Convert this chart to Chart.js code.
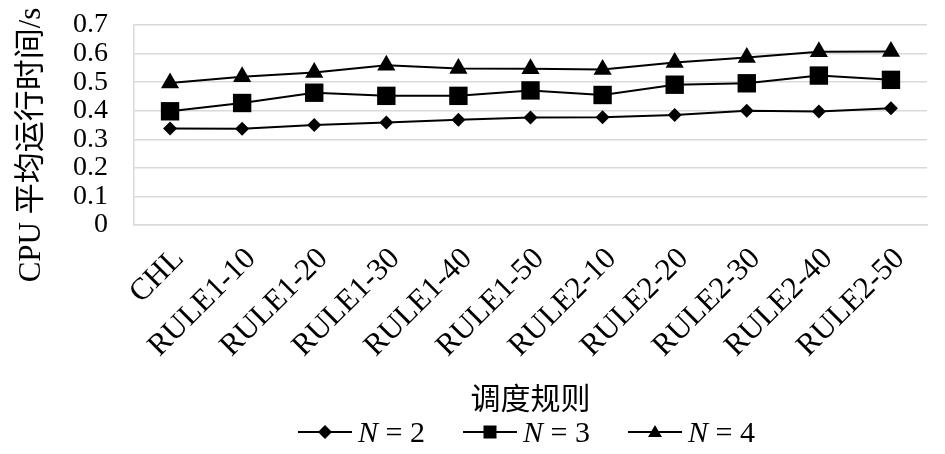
<!DOCTYPE html>
<html>
<head>
<meta charset="utf-8">
<title>CPU 平均运行时间</title>
<script src="https://cdn.jsdelivr.net/npm/chart.js"></script>
<style>
  body { margin: 0; background: #fff; }
  #wrap { position: relative; width: 945px; height: 454px; }
  #chart { position: absolute; left: 0; top: 0; }
  #legend {
    position: absolute; left: 108px; top: 414px; width: 837px; height: 36px;
    display: flex; justify-content: center; align-items: center; gap: 38px;
    font-family: "Liberation Serif", "Noto Sans CJK SC", serif; font-size: 30px; color: #000;
  }
  #legend .item { display: flex; align-items: center; gap: 6px; white-space: pre; }
</style>
</head>
<body>
<div id="wrap">
  <canvas id="chart" width="945" height="454"></canvas>
  <div id="legend"></div>
</div>
<script>
const categories = ['CHL', 'RULE1-10', 'RULE1-20', 'RULE1-30', 'RULE1-40', 'RULE1-50',
                    'RULE2-10', 'RULE2-20', 'RULE2-30', 'RULE2-40', 'RULE2-50'];
const n2 = [0.338, 0.337, 0.350, 0.359, 0.368, 0.376, 0.377, 0.385, 0.400, 0.397, 0.409];
const n3 = [0.398, 0.427, 0.463, 0.452, 0.452, 0.471, 0.455, 0.491, 0.496, 0.523, 0.508];
const n4 = [0.497, 0.519, 0.534, 0.559, 0.548, 0.547, 0.544, 0.569, 0.586, 0.606, 0.607];
const yTickLabels = ['0', '0.1', '0.2', '0.3', '0.4', '0.5', '0.6', '0.7'];
const seriesNames = ['2', '3', '4'];
const yTitle = 'CPU 平均运行时间/s';
const xTitle = '调度规则';

const fontFamily = '"Liberation Serif", "Noto Sans CJK SC", serif';
const gridColor = '#d9d9d9';

// y axis title, centred on the whole chart height like the original
const yTitlePlugin = {
    id: 'yTitle',
    afterDraw(chart) {
        const ctx = chart.ctx;
        ctx.save();
        ctx.translate(32, 145);
        ctx.rotate(-Math.PI / 2);
        ctx.font = '31px ' + fontFamily;
        ctx.fillStyle = '#000';
        ctx.textAlign = 'center';
        ctx.textBaseline = 'middle';
        ctx.fillText(yTitle, 0, 0);
        ctx.restore();
    }
};

function dataset(name, values, style, radius) {
    return {
        label: 'N = ' + name,
        data: values,
        borderColor: '#000',
        backgroundColor: '#000',
        borderWidth: 2,
        pointStyle: style,
        pointRadius: radius,
        pointBackgroundColor: '#000',
        pointBorderWidth: 0,
        tension: 0
    };
}

new Chart(document.getElementById('chart'), {
    type: 'line',
    data: {
        labels: categories,
        datasets: [
            dataset(seriesNames[0], n2, 'rectRot', 7),
            dataset(seriesNames[1], n3, 'rect', 13),
            dataset(seriesNames[2], n4, 'triangle', 10.5)
        ]
    },
    options: {
        responsive: false,
        animation: false,
        devicePixelRatio: 1,
        layout: { padding: { left: 0, top: 25, right: 18, bottom: 38 } },
        plugins: {
            legend: { display: false },
            tooltip: { enabled: false }
        },
        scales: {
            x: {
                offset: true,
                grid: { display: false },
                border: { display: true, color: gridColor, width: 1.5 },
                ticks: {
                    color: '#000',
                    font: { family: fontFamily, size: 31 },
                    minRotation: 45,
                    maxRotation: 45,
                    autoSkip: false,
                    padding: 8,
                    labelOffset: 9
                },
                title: {
                    display: true,
                    text: xTitle,
                    color: '#000',
                    font: { family: fontFamily, size: 30, lineHeight: 1 },
                    padding: { top: 0, bottom: 0 }
                },
                afterFit(scale) { scale.height = 191; }
            },
            y: {
                min: 0,
                max: 0.7,
                grid: { color: gridColor, lineWidth: 1.5, drawTicks: false },
                border: { display: true, color: gridColor, width: 1.5 },
                ticks: {
                    stepSize: 0.1,
                    autoSkip: false,
                    color: '#000',
                    padding: 26,
                    font: { family: fontFamily, size: 28, lineHeight: 1 },
                    callback: (v, i) => yTickLabels[i]
                },
                afterFit(scale) {
                    scale.width = 134;
                    // tick padding should not push the plot area down
                    scale.paddingTop = 0;
                    scale.paddingBottom = 0;
                }
            }
        }
    },
    plugins: [yTitlePlugin]
});

// legend drawn as html: line with marker, then italic N
const markers = [
    '<polygon points="27,3 34,10 27,17 20,10" fill="#000"/>',
    '<rect x="20.5" y="3.5" width="13" height="13" fill="#000"/>',
    '<polygon points="27,3 34,15 20,15" fill="#000"/>'
];
document.getElementById('legend').innerHTML = seriesNames.map((n, i) =>
    '<span class="item"><svg width="54" height="20"><line x1="0" y1="10" x2="54" y2="10" stroke="#000" stroke-width="2"/>' +
    markers[i] + '</svg><span><i>N</i> = ' + n + '</span></span>'
).join('');
</script>
</body>
</html>
